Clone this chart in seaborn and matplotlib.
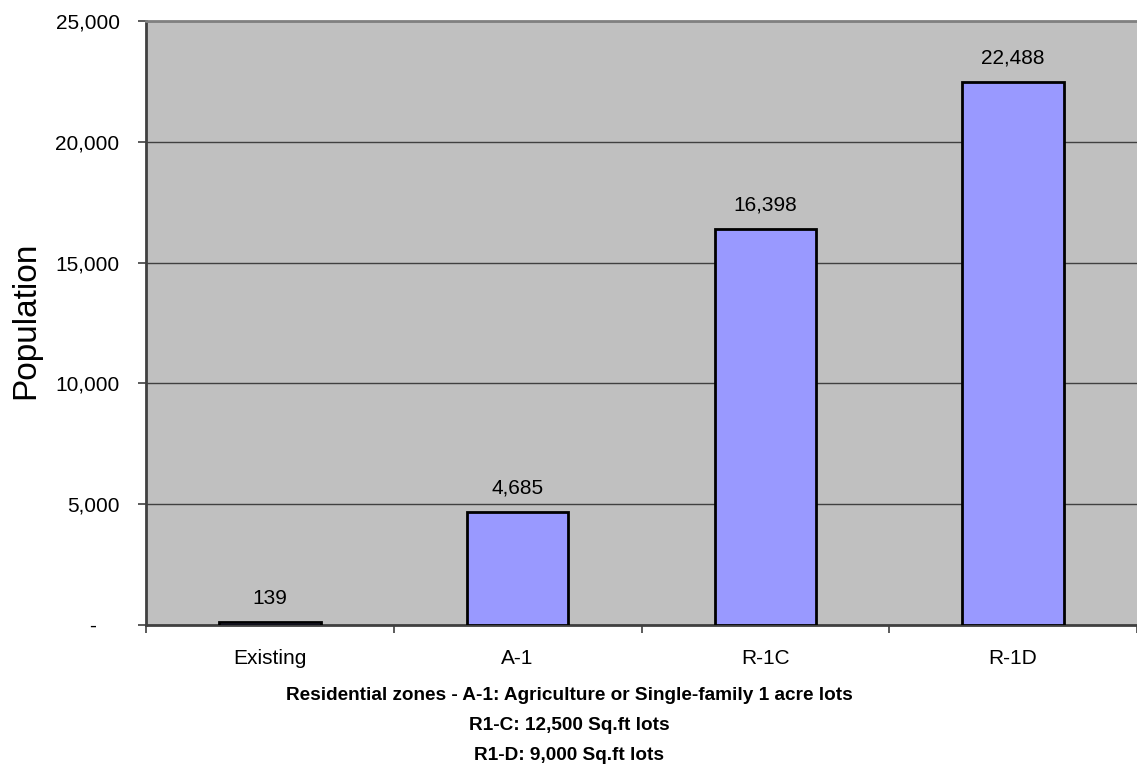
import matplotlib
matplotlib.use("Agg")
import matplotlib.pyplot as plt
import matplotlib.ticker as mticker
import seaborn as sns

categories = ["Existing", "A-1", "R-1C", "R-1D"]
population = [139, 4685, 16398, 22488]
y_ticks = [0, 5000, 10000, 15000, 20000, 25000]

sns.set_theme(style="white")
plt.rcParams["font.family"] = ["Liberation Sans", "DejaVu Sans"]

fig = plt.figure(figsize=(11.37, 7.69), dpi=100)
ax = fig.add_axes([146 / 1137, 1 - 625 / 769, 991 / 1137, 604 / 769])
ax.set_facecolor("#C0C0C0")

sns.barplot(x=categories, y=population, color="#9999FF", saturation=1,
            edgecolor="black", linewidth=2, width=0.41, ax=ax, zorder=3)

ax.set_xlim(-0.5, 3.5)
ax.set_ylim(0, 25000)
ax.set_yticks(y_ticks)
ax.yaxis.set_major_formatter(mticker.FuncFormatter(
    lambda v, p: "-    " if v == 0 else f"{int(v):,}"))
ax.yaxis.grid(True, color="#404040", linewidth=1, zorder=0)
ax.set_axisbelow(True)

ax.tick_params(axis="y", which="major", length=6, width=1.2, color="#404040",
               direction="out", pad=13, labelsize=15, left=True, labelcolor="black")
ax.tick_params(axis="x", which="major", length=0, pad=17, labelsize=15, labelcolor="black")
ax.set_xticks([-0.5, 0.5, 1.5, 2.5, 3.5], minor=True)
ax.tick_params(axis="x", which="minor", length=6, width=1.2, color="#404040",
               direction="out", bottom=True)

for s in ["left", "bottom"]:
    ax.spines[s].set_color("#404040")
    ax.spines[s].set_linewidth(2)
ax.spines["top"].set_color("#808080")
ax.spines["top"].set_linewidth(2)
ax.spines["right"].set_visible(False)

for i, v in enumerate(population):
    ax.annotate(f"{v:,}", xy=(i, v), xytext=(0, 10), textcoords="offset points",
                ha="center", va="bottom", fontsize=15, color="black")

ax.set_ylabel("Population", fontsize=24, color="black")
ax.yaxis.set_label_coords(-0.106, 0.505)
ax.set_xlabel("Residential zones - A-1: Agriculture or Single-family 1 acre lots\n"
              "R1-C: 12,500 Sq.ft lots\nR1-D: 9,000 Sq.ft lots",
              fontsize=13.7, fontweight="bold", color="black", linespacing=2.0)
ax.xaxis.set_label_coords(0.427, -0.102)

fig.savefig("out.png", dpi=100)
